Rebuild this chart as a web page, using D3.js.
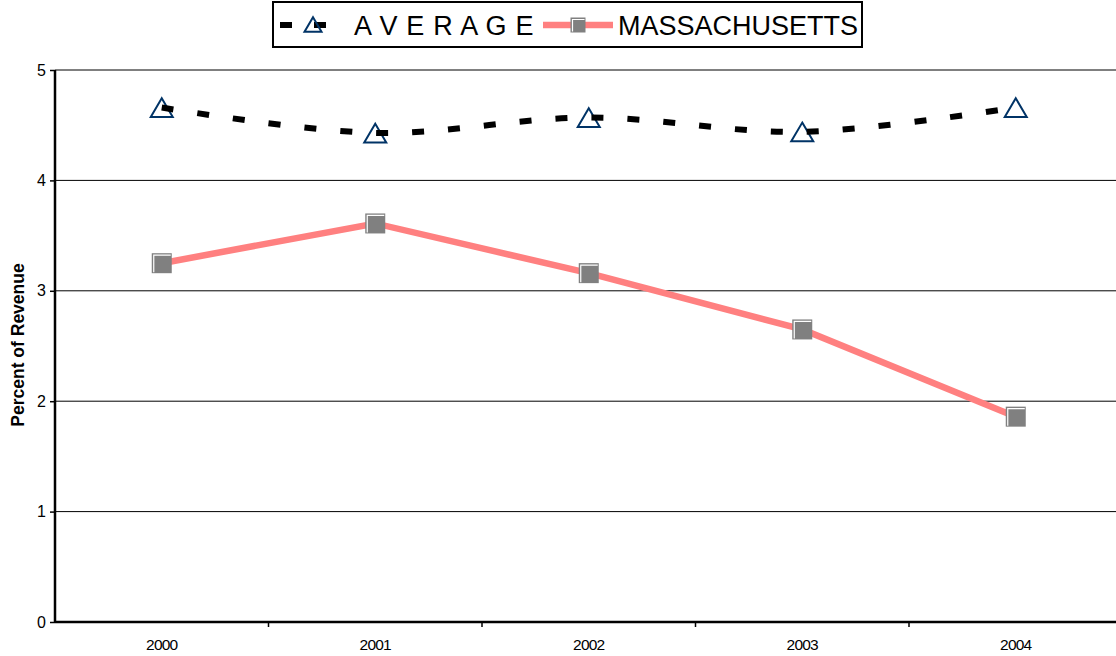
<!DOCTYPE html>
<html>
<head>
<meta charset="utf-8">
<script src="https://cdn.jsdelivr.net/npm/d3@7"></script>
<style>
body { margin: 0; background: #fff; }
svg { display: block; font-family: "Liberation Sans", Arial, sans-serif; }
</style>
</head>
<body>
<div></div>
<script>
var w = 1116;
var h = 656;

var years = ["2000", "2001", "2002", "2003", "2004"];
var averageValues = [4.66, 4.43, 4.57, 4.44, 4.66];
var massValues = [3.25, 3.61, 3.16, 2.65, 1.86];
var yTicks = [0, 1, 2, 3, 4, 5];
var seriesNames = ["A V E R A G E", "MASSACHUSETTS"];

var svg = d3.select("div").append("svg")
	.attr("width", w)
	.attr("height", h);

var x = d3.scaleBand().domain(years).range([55, 1122.5]).padding(0);
var y = d3.scaleLinear().domain([0, 5]).range([622, 70]);

// gridlines
svg.append("g").selectAll("line")
	.data(yTicks.filter(function(d) { return d > 0; }))
	.enter().append("line")
	.attr("x1", 55).attr("x2", w)
	.attr("y1", function(d) { return y(d); })
	.attr("y2", function(d) { return y(d); })
	.attr("stroke", "#000").attr("stroke-width", 1);

// y axis
var yAxis = svg.append("g").attr("transform", "translate(55,0)")
	.call(d3.axisLeft(y).tickValues(yTicks).tickSize(5).tickPadding(4).tickFormat(d3.format("d")));
yAxis.select(".domain").remove();
yAxis.selectAll("line").attr("stroke", "#000").attr("stroke-width", 1.5);
yAxis.selectAll("text").attr("font-size", 16).attr("fill", "#000")
	.attr("font-family", "Liberation Sans, Arial, sans-serif");
svg.append("line")
	.attr("x1", 55).attr("x2", 55).attr("y1", y(5)).attr("y2", y(0))
	.attr("stroke", "#000").attr("stroke-width", 2.5);

// x axis
var bounds = years.map(function(d) { return x(d); }).concat([x(years[years.length - 1]) + x.bandwidth()]);
svg.append("g").selectAll("line")
	.data(bounds.slice(1))
	.enter().append("line")
	.attr("x1", function(d) { return d; }).attr("x2", function(d) { return d; })
	.attr("y1", y(0)).attr("y2", y(0) + 5)
	.attr("stroke", "#000").attr("stroke-width", 1.5);
svg.append("line")
	.attr("x1", 55).attr("x2", w).attr("y1", y(0)).attr("y2", y(0))
	.attr("stroke", "#000").attr("stroke-width", 2.5);
svg.append("g").selectAll("text")
	.data(years)
	.enter().append("text")
	.attr("x", function(d) { return x(d) + x.bandwidth() / 2; })
	.attr("y", 650)
	.attr("text-anchor", "middle")
	.attr("font-size", 15.5)
	.attr("letter-spacing", -0.8)
	.text(function(d) { return d; });

// y label
svg.append("text")
	.attr("transform", "translate(24,345) rotate(-90)")
	.attr("text-anchor", "middle")
	.attr("font-size", 17.5)
	.attr("font-weight", "bold")
	.text("Percent of Revenue");

function cx(d, i) { return x(years[i]) + x.bandwidth() / 2; }

// massachusetts line
var massLine = d3.line().x(cx).y(function(d) { return y(d); });
svg.append("path")
	.attr("d", massLine(massValues))
	.attr("fill", "none")
	.attr("stroke", "#ff8080")
	.attr("stroke-width", 6.5);

function drawSquare(g, px, py, s) {
	g.append("rect")
		.attr("x", px - s / 2).attr("y", py - s / 2)
		.attr("width", s).attr("height", s)
		.attr("fill", "#808080");
	g.append("path")
		.attr("d", "M" + (px - s / 2 + 2) + "," + (py + s / 2 - 1) + "V" + (py - s / 2 + 2) + "H" + (px + s / 2 - 1))
		.attr("fill", "none").attr("stroke", "#fff").attr("stroke-width", 1.2);
}

function drawTriangle(g, px, py, s) {
	var hh = s * 0.85;
	g.append("path")
		.attr("d", "M" + px + "," + (py - hh * 0.6) + "L" + (px + s / 2) + "," + (py + hh * 0.4) + "L" + (px - s / 2) + "," + (py + hh * 0.4) + "Z")
		.attr("fill", "none").attr("stroke", "#003366").attr("stroke-width", 2);
}

var massG = svg.append("g");
massValues.forEach(function(d, i) { drawSquare(massG, cx(d, i), y(d), 20); });

// average line (smoothed, dashed)
var avgG = svg.append("g");
averageValues.forEach(function(d, i) { drawTriangle(avgG, cx(d, i), y(d) + 2, 22); });
var avgLine = d3.line().x(cx).y(function(d) { return y(d); }).curve(d3.curveCatmullRom);
svg.append("path")
	.attr("d", avgLine(averageValues))
	.attr("fill", "none")
	.attr("stroke", "#000")
	.attr("stroke-width", 6)
	.attr("stroke-dasharray", "12,24");

// legend
var leg = svg.append("g");
leg.append("rect")
	.attr("x", 273).attr("y", 2).attr("width", 589).attr("height", 45)
	.attr("fill", "#fff").attr("stroke", "#000").attr("stroke-width", 2);
leg.append("line")
	.attr("x1", 280).attr("x2", 328).attr("y1", 25).attr("y2", 25)
	.attr("stroke", "#000").attr("stroke-width", 6).attr("stroke-dasharray", "12,22");
drawTriangle(leg, 313, 26, 17);
leg.append("text")
	.attr("x", 354).attr("y", 35)
	.attr("font-size", 27)
	.attr("word-spacing", 1.4)
	.text(seriesNames[0]);
leg.append("line")
	.attr("x1", 543).attr("x2", 613).attr("y1", 25).attr("y2", 25)
	.attr("stroke", "#ff8080").attr("stroke-width", 6.5);
drawSquare(leg, 578, 25, 15);
leg.append("text")
	.attr("x", 618).attr("y", 35)
	.attr("font-size", 27)
	.text(seriesNames[1]);
</script>
</body>
</html>
